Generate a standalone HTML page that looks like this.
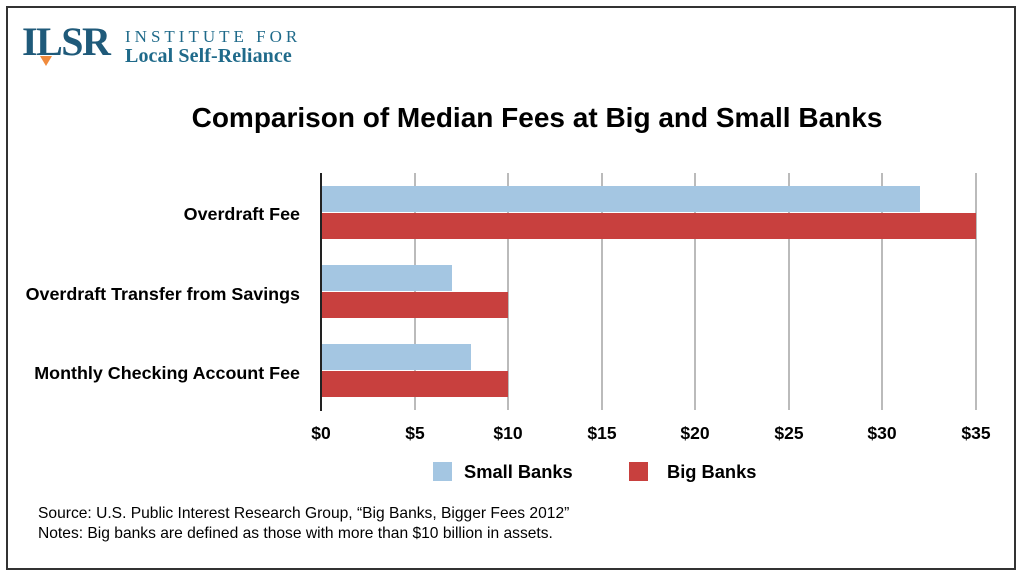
<!DOCTYPE html><html><head><style>
body{margin:0;width:1024px;height:578px;background:#fff;font-family:"Liberation Sans",Arial,sans-serif;position:relative;overflow:hidden}
.frame{position:absolute;left:6px;top:6px;width:1010px;height:564px;border:2px solid #333;box-sizing:border-box}
.t{position:absolute;white-space:nowrap}
.b{font-weight:bold}
</style></head><body>
<div class="frame"></div>
<div class="t" style="left:22px;top:22px;font-family:'Liberation Serif',serif;font-weight:bold;font-size:40px;color:#1f5a7a;letter-spacing:-1.5px;line-height:40px">ILSR</div>
<div class="t" style="left:40px;top:56px;width:0;height:0;border-left:6px solid transparent;border-right:6px solid transparent;border-top:10px solid #f08a3c"></div>
<div class="t" style="left:125px;top:27px;font-family:'Liberation Serif',serif;font-size:17px;letter-spacing:4px;color:#1f6a8a">INSTITUTE FOR</div>
<div class="t" style="left:125px;top:45px;font-family:'Liberation Serif',serif;font-weight:bold;font-size:20px;color:#1f6a8a;letter-spacing:0.1px">Local Self-Reliance</div>
<div class="t b" style="left:0;width:1074px;text-align:center;top:102px;font-size:28px;color:#000">Comparison of Median Fees at Big and Small Banks</div>
<svg class="t" style="left:0;top:0" width="1024" height="578">
<g stroke="#bbb" stroke-width="2">
<line x1="415" y1="173" x2="415" y2="410"/><line x1="508" y1="173" x2="508" y2="410"/><line x1="602" y1="173" x2="602" y2="410"/><line x1="695" y1="173" x2="695" y2="410"/><line x1="789" y1="173" x2="789" y2="410"/><line x1="882" y1="173" x2="882" y2="410"/><line x1="976" y1="173" x2="976" y2="410"/>
</g>
<g fill="#a4c6e2"><rect x="321" y="186" width="599" height="26"/><rect x="321" y="265" width="131" height="26"/><rect x="321" y="344" width="150" height="26"/></g>
<g fill="#c8403e"><rect x="321" y="213" width="655" height="26"/><rect x="321" y="292" width="187" height="26"/><rect x="321" y="371" width="187" height="26"/></g>
<line x1="321" y1="173" x2="321" y2="411" stroke="#222" stroke-width="2"/>
<g font-family="Liberation Sans,Arial,sans-serif" font-weight="bold" font-size="17.5" text-anchor="middle" fill="#000">
<text x="321" y="439">$0</text><text x="415" y="439">$5</text><text x="508" y="439">$10</text><text x="602" y="439">$15</text><text x="695" y="439">$20</text><text x="789" y="439">$25</text><text x="882" y="439">$30</text><text x="976" y="439">$35</text>
</g>
<g font-family="Liberation Sans,Arial,sans-serif" font-weight="bold" font-size="17.9" text-anchor="end" fill="#000">
<text x="300" y="220">Overdraft Fee</text><text x="300" y="300">Overdraft Transfer from Savings</text><text x="300" y="379">Monthly Checking Account Fee</text>
</g>
<rect x="433" y="462" width="19" height="19" fill="#a4c6e2"/><rect x="629" y="462" width="19" height="19" fill="#c8403e"/>
<g font-family="Liberation Sans,Arial,sans-serif" font-weight="bold" font-size="18.3" fill="#000">
<text x="464" y="478">Small Banks</text><text x="667" y="478">Big Banks</text>
</g>
<g font-family="Liberation Sans,Arial,sans-serif" font-size="15.6" fill="#000">
<text x="38" y="518">Source: U.S. Public Interest Research Group, “Big Banks, Bigger Fees 2012”</text>
<text x="38" y="538">Notes: Big banks are defined as those with more than $10 billion in assets.</text>
</g>
</svg>
</body></html>
